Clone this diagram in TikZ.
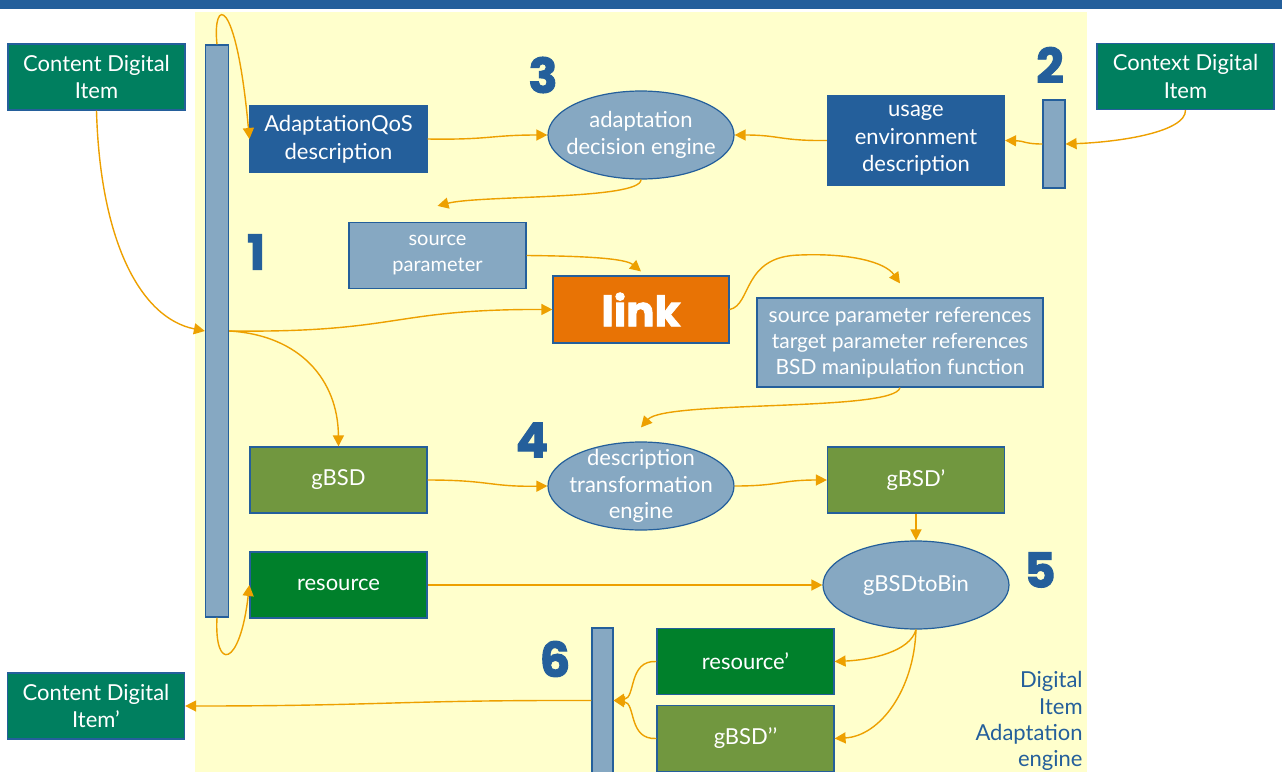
\documentclass[tikz,border=0pt]{standalone}
\usepackage{fontspec}
\setmainfont{Lato}
\newfontfamily\numfont{Poppins}[BoldFeatures={FakeBold=2}]
\usetikzlibrary{arrows.meta,shapes.geometric}
\definecolor{diablue}{HTML}{245F9B}
\definecolor{barblue}{HTML}{86A8C2}
\definecolor{itemteal}{HTML}{007F5F}
\definecolor{resgreen}{HTML}{00802B}
\definecolor{bsdgreen}{HTML}{71973F}
\definecolor{linkorange}{HTML}{E87305}
\definecolor{flowc}{HTML}{EDA000}
\definecolor{enginebg}{HTML}{FFFFCC}

\begin{document}
\begin{tikzpicture}[x=0.5pt,y=-0.5pt,
  box/.style={rectangle,draw=diablue,line width=0.6pt,text=white,align=center,inner sep=1pt,
    minimum width=88.5pt,minimum height=33pt,font=\fontsize{11}{13.8}\selectfont},
  engine/.style={ellipse,draw=diablue,line width=0.6pt,fill=barblue,minimum width=93pt,
    minimum height=44pt,inner sep=0pt,
    label={[text=white,align=center,font=\fontsize{11}{13.4}\selectfont]center:#1}},
  bar/.style={rectangle,draw=diablue,line width=0.6pt,fill=barblue,minimum width=11.5pt,inner sep=0pt},
  stepno/.style={text=diablue,font=\numfont\bfseries\fontsize{24}{24}\selectfont},
  flow/.style={draw=flowc,line width=0.7pt,-{Triangle[length=5.5pt,width=5.5pt]}}]
   \useasboundingbox (0,0) rectangle (1282,772);
   \fill[diablue] (0,0) rectangle (1282,9);
   \fill[enginebg] (195,12) rectangle (1087,772);
   % items and descriptions
   \node[box,fill=itemteal] (cdi) at (96.5,77) {Content Digital\\Item};
   \node[box,fill=itemteal] (cdi2) at (1185.5,76.5) {Context Digital\\Item};
   \node[box,fill=itemteal] (cdi3) at (96,706) {Content Digital\\Item’};
   \node[box,fill=diablue] (aqos) at (338.5,139) {AdaptationQoS\\description};
   \node[box,fill=diablue,minimum height=44.5pt] (ue) at (916,140.5) {usage\\environment\\description};
   \node[box,fill=barblue,font=\fontsize{10}{13}\selectfont] (sp) at (437.5,255.5) {source\\parameter};
   \node[box,fill=linkorange,minimum width=88pt,minimum height=33.5pt,
     font=\numfont\bfseries\fontsize{21}{21}\selectfont] (link) at (641,309.5) {link};
   \node[box,fill=barblue,minimum width=143pt,minimum height=44.5pt,
     font=\fontsize{10.5}{13}\selectfont] (refs) at (900,342.5)
     {source parameter references\\target parameter references\\BSD manipulation function};
   \node[box,fill=bsdgreen] (gbsd) at (338.5,480) {gBSD};
   \node[box,fill=bsdgreen] (gbsd1) at (916,480) {gBSD’};
   \node[box,fill=resgreen] (res) at (338.5,585) {resource};
   \node[box,fill=resgreen] (res1) at (745.5,661.5) {resource’};
   \node[box,fill=bsdgreen] (gbsd2) at (745.5,738.5) {gBSD’’};
   % engines
   \node[engine={adaptation\\decision engine}] (ade) at (641,135) {};
   \node[engine={description\\transformation\\engine}] (dte) at (641,486) {};
   \node[engine={gBSDtoBin}] (gbb) at (916,585) {};
   % bars
   \node[bar,minimum height=286pt] (bar1) at (217,331) {};
   \node[bar,minimum width=11pt,minimum height=44pt] (bar2) at (1054,144) {};
   \node[bar,minimum width=10.5pt,minimum height=72.5pt] (bar6) at (602.5,700.5) {};
   % step numbers
   \node[stepno] (n1) at (256,252) {1};
   \node[stepno] (n2) at (1050,65) {2};
   \node[stepno] (n3) at (543,75) {3};
   \node[stepno] (n4) at (532,440) {4};
   \node[stepno] (n5) at (1040,570) {5};
   \node[stepno] (n6) at (555,659) {6};
   \node[anchor=north east,inner sep=0pt,align=right,text=diablue,
     font=\fontsize{11}{13.2}\selectfont] (die) at (1083,671) {Digital\\Item\\Adaptation\\engine};
   % connectors
   \draw[flow] (bar1.north) .. controls (212,-2) and (236,-8) .. (aqos.west);
   \draw[flow] (bar1.south) .. controls (214,672) and (240,668) .. (res.west);
   \draw[flow] (cdi.south) .. controls (100,240) and (140,318) .. (bar1.west);
   \draw[flow] (bar1.east) .. controls (400,333) and (390,309) .. (link.west);
   \draw[flow] (bar1.east) .. controls (300,335) and (338,380) .. (gbsd.north);
   \draw[flow] (aqos.east) .. controls (490,140) and (490,135) .. (ade.west);
   \draw[flow] (ue.west) .. controls (780,141) and (780,135) .. (ade.east);
   \draw[flow] (bar2.west) .. controls (1025,144) and (1025,141) .. (ue.east);
   \draw[flow] (cdi2.south) .. controls (1186,132) and (1120,142) .. (bar2.east);
   \draw[flow] (ade.south) .. controls (641,200) and (480,195) .. ([yshift=8pt]sp.north);
   \draw[flow] (sp.east) .. controls (580,256) and (625,258) .. ([yshift=2pt]link.north);
   \draw[flow] (link.east) .. controls (752,305) and (742,256) .. (800,255)
     .. controls (850,253) and (885,262) .. ([yshift=7pt]refs.north);
   \draw[flow] (refs.south) .. controls (895,412) and (665,400) .. ([yshift=7pt]dte.north);
   \draw[flow] (gbsd.east) .. controls (490,480) and (490,487) .. (dte.west);
   \draw[flow] (dte.east) .. controls (780,486) and (780,480) .. (gbsd1.west);
   \draw[flow] (gbsd1.south) -- (gbb.north);
   \draw[flow] (res.east) -- (gbb.west);
   \draw[flow] (gbb.south) .. controls (910,652) and (870,660) .. (res1.east);
   \draw[flow] (gbb.south) .. controls (914,690) and (880,736) .. (gbsd2.east);
   \draw[flow] (res1.west) .. controls (628,660) and (636,698) .. (bar6.east);
   \draw[flow] (gbsd2.west) .. controls (628,740) and (636,703) .. (bar6.east);
   \draw[flow] (bar6.west) .. controls (400,700) and (380,706) .. (cdi3.east);
  \end{tikzpicture}
\end{document}
